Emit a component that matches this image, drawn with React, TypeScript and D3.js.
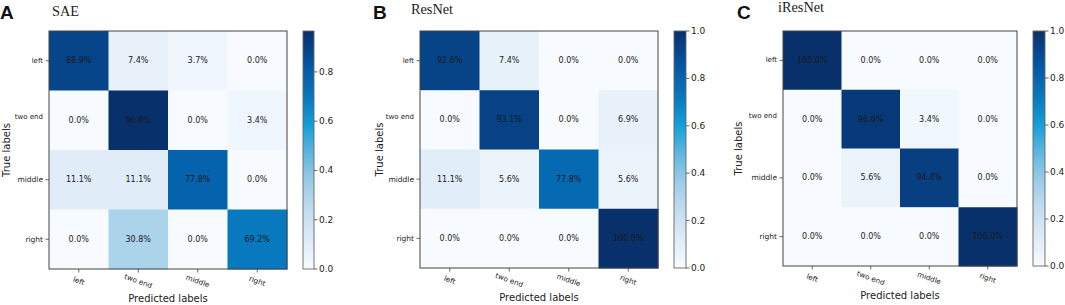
import React from "react";
import * as d3 from "d3";

const classes = ["left", "two end", "middle", "right"];
const saeMatrix = [
  [0.889, 0.074, 0.037, 0.0],
  [0.0, 0.966, 0.0, 0.034],
  [0.111, 0.111, 0.778, 0.0],
  [0.0, 0.308, 0.0, 0.692],
];
const resnetMatrix = [
  [0.926, 0.074, 0.0, 0.0],
  [0.0, 0.931, 0.0, 0.069],
  [0.111, 0.056, 0.778, 0.056],
  [0.0, 0.0, 0.0, 1.0],
];
const iresnetMatrix = [
  [1.0, 0.0, 0.0, 0.0],
  [0.0, 0.966, 0.034, 0.0],
  [0.0, 0.056, 0.944, 0.0],
  [0.0, 0.0, 0.0, 1.0],
];
const panelLetters = ["A", "B", "C"];
const panelTitles = ["SAE", "ResNet", "iResNet"];
const matrices = [saeMatrix, resnetMatrix, iresnetMatrix];
const colorbarTicks = [0, 0.2, 0.4, 0.6, 0.8, 1.0];

// layout (not data)
const layouts = [
  { hx: 49, hy: 31, hw: 238, hh: 238, cbx: 303, cbw: 11, lx: 0, tx: 52, tb: 16, tw: 27, yt: 10 },
  { hx: 420, hy: 31, hw: 238, hh: 237, cbx: 674, cbw: 12, lx: 373, tx: 411, tb: 13.5, tw: 42, yt: 383 },
  { hx: 783, hy: 31, hw: 234, hh: 235, cbx: 1033, cbw: 12, lx: 737, tx: 778, tb: 12, tw: 46, yt: 742 },
];

const stopPos = [0, 0.125, 0.25, 0.375, 0.5, 0.6, 0.72, 0.85, 1];
const stopCol = ["#f7fbff", "#deebf7", "#c2dcef", "#98cbe6", "#55b3de", "#14a0d6", "#0878bd", "#0458a4", "#08306b"];
const cmap = d3.scaleLinear<string>().domain(stopPos).range(stopCol).interpolate(d3.interpolateRgb);

const fmt = d3.format(".1%");
const sans = "'DejaVu Sans', sans-serif";

function Panel({ idx }: { idx: number }) {
  const m = matrices[idx];
  const L = layouts[idx];
  const vmax = d3.max(m.flat()) as number;
  const x = d3.scaleBand().domain(classes).range([L.hx, L.hx + L.hw]);
  const y = d3.scaleBand().domain(classes).range([L.hy, L.hy + L.hh]);
  const cb = d3.scaleLinear().domain([0, vmax]).range([L.hy + L.hh, L.hy]);
  const gradId = `grad${idx}`;
  const ticks = colorbarTicks.filter((t) => t <= vmax + 1e-9);
  const yFont = [7, 7, 7.5, 7.5];
  return (
    <g>
      <defs>
        <linearGradient id={gradId} x1="0" y1="1" x2="0" y2="0">
          {d3.range(0, 1.0001, 0.05).map((t) => (
            <stop key={t} offset={t} stopColor={cmap(t)} />
          ))}
        </linearGradient>
      </defs>
      <text x={L.lx} y={18.5} fontFamily="'Liberation Sans', Arial, sans-serif" fontWeight="bold" fontSize={19} fill="#111">
        {panelLetters[idx]}
      </text>
      <text x={L.tx} y={L.tb} fontFamily="'Liberation Serif', 'Times New Roman', serif" fontSize={14.5} fill="#222"
        textLength={L.tw} lengthAdjust="spacingAndGlyphs">
        {panelTitles[idx]}
      </text>
      {m.map((row, i) =>
        row.map((v, j) => (
          <g key={`${i}-${j}`}>
            <rect x={x(classes[j])} y={y(classes[i])} width={x.bandwidth() + 0.5} height={y.bandwidth() + 0.5}
              fill={cmap(v / vmax)} />
            <text x={(x(classes[j]) as number) + x.bandwidth() / 2} y={(y(classes[i]) as number) + y.bandwidth() / 2}
              textAnchor="middle" dominantBaseline="central" fontFamily={sans} fontSize={8} fill="#1a1a1a">
              {fmt(v)}
            </text>
          </g>
        ))
      )}
      <rect x={L.hx} y={L.hy} width={L.hw} height={L.hh} fill="none" stroke="#444" strokeWidth={1} />
      {classes.map((c, i) => {
        const cy = (y(c) as number) + y.bandwidth() / 2;
        const isTwo = c === "two end";
        return (
          <g key={"y" + c}>
            {!isTwo && <line x1={L.hx - 3.5} x2={L.hx} y1={cy} y2={cy} stroke="#444" strokeWidth={0.8} />}
            <text x={L.hx - 6} y={isTwo ? cy - 3 : cy} textAnchor="end" dominantBaseline="central" fontFamily={sans}
              fontSize={yFont[i]} fill="#222">
              {c}
            </text>
          </g>
        );
      })}
      {classes.map((c) => {
        const cx = (x(c) as number) + x.bandwidth() / 2;
        const by = L.hy + L.hh;
        return (
          <g key={"x" + c}>
            <line x1={cx} x2={cx} y1={by} y2={by + 3.5} stroke="#444" strokeWidth={0.8} />
            <text transform={`translate(${cx},${by + 12}) rotate(20)`} textAnchor="middle" dominantBaseline="central"
              fontFamily={sans} fontSize={7.2} fill="#222">
              {c}
            </text>
          </g>
        );
      })}
      <text x={L.hx + L.hw / 2} y={L.hy + L.hh + 33} textAnchor="middle" fontFamily={sans} fontSize={10} fill="#222">
        Predicted labels
      </text>
      <text transform={`translate(${L.yt},${L.hy + L.hh / 2}) rotate(-90)`} textAnchor="middle" fontFamily={sans}
        fontSize={10} fill="#222">
        True labels
      </text>
      <rect x={L.cbx} y={L.hy} width={L.cbw} height={L.hh} fill={`url(#${gradId})`} stroke="#666" strokeWidth={0.9} />
      {ticks.map((t) => (
        <g key={"cb" + t}>
          <line x1={L.cbx + L.cbw} x2={L.cbx + L.cbw + 3.5} y1={cb(t)} y2={cb(t)} stroke="#444" strokeWidth={0.8} />
          <text x={L.cbx + L.cbw + 5} y={cb(t)} dominantBaseline="central" fontFamily={sans} fontSize={9} fill="#222">
            {t.toFixed(1)}
          </text>
        </g>
      ))}
    </g>
  );
}

export default function App() {
  return (
    <svg width={1065} height={305} style={{ position: "absolute", left: 0, top: 0, background: "#fff" }}>
      <rect width={1065} height={305} fill="#fff" />
      {[0, 1, 2].map((i) => (
        <Panel key={i} idx={i} />
      ))}
    </svg>
  );
}
